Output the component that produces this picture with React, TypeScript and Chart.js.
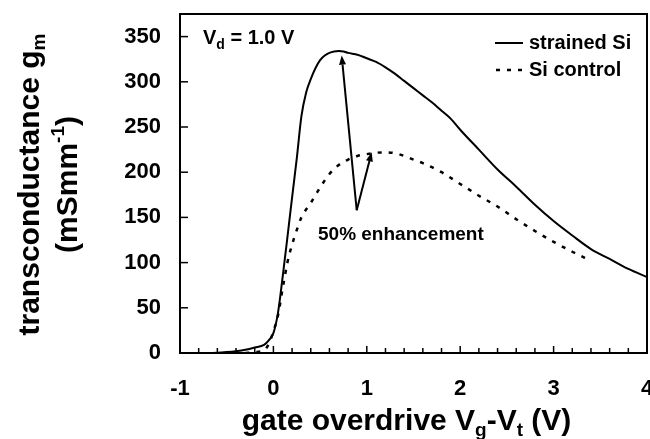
import React, { useEffect, useRef } from "react";
import { Chart, registerables } from "chart.js";

Chart.register(...registerables);

// ---- data ----
const strainedX = [-0.8, -0.6, -0.5, -0.4, -0.3, -0.2, -0.1, -0.05, 0, 0.05, 0.1, 0.15, 0.2, 0.25, 0.3, 0.35, 0.4, 0.45, 0.5, 0.55, 0.6, 0.65, 0.7, 0.75, 0.8, 0.9, 1.0, 1.1, 1.2, 1.3, 1.4, 1.5, 1.6, 1.7, 1.8, 1.9, 2.0, 2.2, 2.4, 2.6, 2.8, 3.0, 3.2, 3.4, 3.6, 3.8, 4.0];
const strainedY = [0, 0.3, 1, 2, 3.5, 6, 9, 14, 22, 45, 85, 128, 172, 215, 262, 288, 303, 315, 324, 329, 332, 333.5, 334, 333.5, 332, 330, 326, 322, 316, 309, 301, 293, 285, 277, 268, 259, 247, 225, 203, 184, 164, 146, 130, 115, 104, 93, 84];

const controlX = [-0.3, -0.2, -0.1, -0.05, 0, 0.05, 0.1, 0.15, 0.2, 0.25, 0.3, 0.4, 0.5, 0.6, 0.7, 0.8, 0.9, 1.0, 1.1, 1.2, 1.3, 1.4, 1.5, 1.6, 1.8, 2.0, 2.2, 2.4, 2.6, 2.8, 3.0, 3.2, 3.4];
const controlY = [0, 1, 3, 10, 24, 42, 72, 100, 120, 136, 150, 166, 183, 198, 208, 214, 218, 220, 221.5, 222, 221, 218, 214, 210, 200, 187, 174, 162, 148, 135, 123, 112, 102];

const seriesLabels = ["strained Si", "Si control"];
const xTickValues = [-1, 0, 1, 2, 3, 4];
const yTickValues = [0, 50, 100, 150, 200, 250, 300, 350];
const xMin = -1;
const xMax = 4;
const xMinorStep = 0.2;
const yMin = 0;
const yMax = 375;

const arrowBase = { x: 0.892, y: 157.9 };
const arrowTipsX = [0.731, 1.052];
const arrowTipsY = [329, 222];
const annotationText = "50% enhancement";
const annotationAnchor = { x: 0.4775, y: 130.3 };

const FONT = "'Liberation Sans', Arial, Helvetica, sans-serif";

type Seg = { t: string; size: number; dy?: number };

function richWidth(ctx: CanvasRenderingContext2D, segs: Seg[]) {
  let w = 0;
  for (const s of segs) {
    ctx.font = `bold ${s.size}px ${FONT}`;
    w += ctx.measureText(s.t).width;
  }
  return w;
}

function drawRich(ctx: CanvasRenderingContext2D, segs: Seg[], x: number, y: number, align: "left" | "center") {
  const w = richWidth(ctx, segs);
  let cx = align === "center" ? x - w / 2 : x;
  ctx.textAlign = "left";
  for (const s of segs) {
    ctx.font = `bold ${s.size}px ${FONT}`;
    ctx.fillText(s.t, cx, y + (s.dy || 0));
    cx += ctx.measureText(s.t).width;
  }
}

const decorPlugin = {
  id: "decor",
  afterDraw(chart: any) {
    const ctx: CanvasRenderingContext2D = chart.ctx;
    const { left, right, top, bottom } = chart.chartArea;
    const xs = chart.scales.x;
    const ys = chart.scales.y;
    ctx.save();
    ctx.strokeStyle = "#000";
    ctx.fillStyle = "#000";
    ctx.lineCap = "butt";

    // frame
    ctx.lineWidth = 2;
    ctx.strokeRect(left, top, right - left, bottom - top);

    // inward y ticks
    ctx.lineWidth = 1.5;
    for (const v of yTickValues) {
      const py = ys.getPixelForValue(v);
      ctx.beginPath();
      ctx.moveTo(left, py);
      ctx.lineTo(left + 8, py);
      ctx.stroke();
    }
    // inward x ticks (minor + major)
    const n = Math.round((xMax - xMin) / xMinorStep);
    const perMajor = Math.round(1 / xMinorStep);
    for (let i = 0; i <= n; i++) {
      const v = xMin + i * xMinorStep;
      const px = xs.getPixelForValue(v);
      const major = i % perMajor === 0;
      ctx.beginPath();
      ctx.moveTo(px, bottom);
      ctx.lineTo(px, bottom - (major ? 7 : 5));
      ctx.stroke();
    }

    // arrows
    ctx.lineWidth = 2;
    const bx = xs.getPixelForValue(arrowBase.x);
    const by = ys.getPixelForValue(arrowBase.y);
    for (let i = 0; i < arrowTipsX.length; i++) {
      const tx = xs.getPixelForValue(arrowTipsX[i]);
      const ty = ys.getPixelForValue(arrowTipsY[i]);
      const ang = Math.atan2(ty - by, tx - bx);
      const hl = 9;
      const hw = 3.5;
      const baseX = tx - hl * Math.cos(ang);
      const baseY = ty - hl * Math.sin(ang);
      ctx.beginPath();
      ctx.moveTo(bx, by);
      ctx.lineTo(baseX, baseY);
      ctx.stroke();
      ctx.beginPath();
      ctx.moveTo(tx, ty);
      ctx.lineTo(baseX + hw * Math.sin(ang), baseY - hw * Math.cos(ang));
      ctx.lineTo(baseX - hw * Math.sin(ang), baseY + hw * Math.cos(ang));
      ctx.closePath();
      ctx.fill();
    }

    // annotation text
    ctx.textBaseline = "middle";
    drawRich(ctx, [{ t: annotationText, size: 19 }], xs.getPixelForValue(annotationAnchor.x), ys.getPixelForValue(annotationAnchor.y), "left");

    // V_d label
    ctx.textBaseline = "alphabetic";
    drawRich(
      ctx,
      [
        { t: "V", size: 20 },
        { t: "d", size: 14, dy: 5 },
        { t: " = 1.0 V", size: 20 },
      ],
      left + 23,
      top + 30,
      "left"
    );

    // legend
    ctx.textBaseline = "middle";
    const lx0 = right - 152;
    const lx1 = right - 124;
    const ly1 = top + 29;
    const ly2 = top + 56;
    ctx.lineWidth = 2;
    ctx.setLineDash([]);
    ctx.beginPath();
    ctx.moveTo(lx0, ly1);
    ctx.lineTo(lx1, ly1);
    ctx.stroke();
    ctx.lineWidth = 2.5;
    ctx.setLineDash([4, 7]);
    ctx.beginPath();
    ctx.moveTo(lx0 + 1, ly2);
    ctx.lineTo(lx1, ly2);
    ctx.stroke();
    ctx.setLineDash([]);
    drawRich(ctx, [{ t: seriesLabels[0], size: 20 }], lx1 + 6, ly1, "left");
    drawRich(ctx, [{ t: seriesLabels[1], size: 20 }], lx1 + 6, ly2, "left");

    // x title
    ctx.textBaseline = "alphabetic";
    drawRich(
      ctx,
      [
        { t: "gate overdrive V", size: 30 },
        { t: "g", size: 19, dy: 6 },
        { t: "-V", size: 30 },
        { t: "t", size: 19, dy: 6 },
        { t: " (V)", size: 30 },
      ],
      (left + right) / 2 - 7,
      430,
      "center"
    );

    // y title (two rotated lines)
    const cy = (top + bottom) / 2 + 1;
    ctx.save();
    ctx.translate(39, cy);
    ctx.rotate(-Math.PI / 2);
    drawRich(
      ctx,
      [
        { t: "transconductance g", size: 30 },
        { t: "m", size: 19, dy: 6 },
      ],
      0,
      0,
      "center"
    );
    ctx.restore();
    ctx.save();
    ctx.translate(77, cy);
    ctx.rotate(-Math.PI / 2);
    drawRich(
      ctx,
      [
        { t: "(mSmm", size: 30 },
        { t: "-1", size: 19, dy: -13 },
        { t: ")", size: 30 },
      ],
      0,
      0,
      "center"
    );
    ctx.restore();

    ctx.restore();
  },
};

export default function App() {
  const ref = useRef<HTMLCanvasElement | null>(null);
  useEffect(() => {
    document.body.style.margin = "0";
    const canvas = ref.current;
    if (!canvas) return;
    const chart = new Chart(canvas, {
      type: "line",
      data: {
        datasets: [
          {
            label: seriesLabels[0],
            data: strainedX.map((x, i) => ({ x, y: strainedY[i] })),
            borderColor: "#000",
            borderWidth: 2,
            pointRadius: 0,
            cubicInterpolationMode: "monotone",
            fill: false,
          },
          {
            label: seriesLabels[1],
            data: controlX.map((x, i) => ({ x, y: controlY[i] })),
            borderColor: "#000",
            borderWidth: 2.5,
            borderDash: [4, 7],
            pointRadius: 0,
            cubicInterpolationMode: "monotone",
            fill: false,
          },
        ],
      },
      options: {
        animation: false,
        responsive: false,
        devicePixelRatio: 1,
        layout: { padding: { top: 14, right: 3, left: 0, bottom: 0 } },
        plugins: { legend: { display: false }, tooltip: { enabled: false } },
        scales: {
          x: {
            type: "linear",
            min: xMin,
            max: xMax,
            ticks: {
              color: "#000",
              padding: 23,
              autoSkip: false,
              maxRotation: 0,
              font: { family: FONT, size: 22, weight: "bold" },
            },
            afterBuildTicks: (s: any) => {
              s.ticks = xTickValues.map((v) => ({ value: v }));
            },
            grid: { display: false, drawTicks: false },
            border: { display: false },
            afterFit: (s: any) => {
              s.height = 86;
              s.paddingLeft = 0;
              s.paddingRight = 0;
            },
          },
          y: {
            type: "linear",
            min: yMin,
            max: yMax,
            ticks: {
              color: "#000",
              padding: 19,
              autoSkip: false,
              font: { family: FONT, size: 22, weight: "bold" },
            },
            afterBuildTicks: (s: any) => {
              s.ticks = yTickValues.map((v) => ({ value: v }));
            },
            grid: { display: false, drawTicks: false },
            border: { display: false },
            afterFit: (s: any) => {
              s.width = 180;
              s.paddingTop = 0;
              s.paddingBottom = 0;
            },
          },
        },
      },
      plugins: [decorPlugin],
    } as any);
    return () => chart.destroy();
  }, []);
  return (
    <div style={{ width: 650, height: 439, background: "#fff" }}>
      <canvas ref={ref} width={650} height={439} style={{ display: "block" }} />
    </div>
  );
}
